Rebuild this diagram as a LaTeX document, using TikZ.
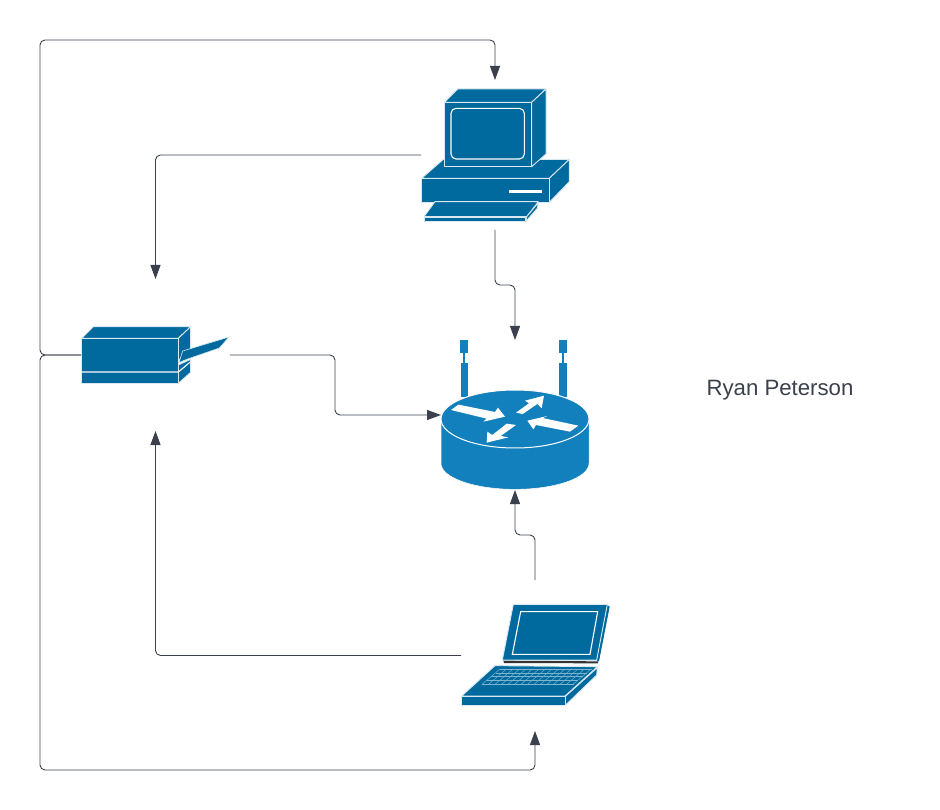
\documentclass[tikz,border=0pt]{standalone}
\usepackage{fontspec}
\setmainfont{Liberation Sans}
\usetikzlibrary{arrows.meta}
\definecolor{devblue}{HTML}{00699D}
\definecolor{routerblue}{HTML}{1280BC}
\definecolor{linegrey}{HTML}{3A414C}
\definecolor{keygrid}{HTML}{7FB4CE}
\tikzset{
  anchorbox/.style={inner sep=0pt,outer sep=0pt,minimum width=148pt,minimum height=150pt},
  wire/.style={draw=linegrey,line width=0.9pt,rounded corners=5pt},
  arrowwire/.style={wire,-{Triangle[length=14pt,width=10pt,color=linegrey]}},
  dev/.style={fill=devblue,draw=white!85!devblue,line width=0.9pt,line join=round},
  rdev/.style={fill=routerblue,draw=none},
  wl/.style={draw=white,line width=1.1pt},
  thinw/.style={draw=keygrid,line width=0.45pt},
  wfill/.style={fill=white,draw=none}
}
\begin{document}
\begin{tikzpicture}[x=1pt,y=-1pt]
\useasboundingbox (0,0) rectangle (940,810);
% --- computer ---
\begin{scope}[shift={(410,80)},scale=1/3]
  \path[dev] (35,295)--(100,238)--(478,238)--(418,295)--cycle;
  \path[dev] (103,67)--(143,27)--(408,27)--(365,67)--cycle;
  \path[dev] (365,67)--(408,27)--(408,222)--(365,260)--cycle;
  \path[dev] (103,67) rectangle (365,260);
  \path[dev] (418,295)--(478,238)--(478,305)--(418,367)--cycle;
  \path[dev] (35,295) rectangle (418,367);
  \path[wfill] (298,330) rectangle (395,340);
  \draw[wl,rounded corners=5pt] (123,85) rectangle (343,237);
  \path[dev] (75,365)--(385,365)--(350,410)--(42,410)--cycle;
  \path[dev] (350,410)--(385,368)--(382,385)--(347,425)--cycle;
  \path[dev] (42,411) rectangle (347,425);
\end{scope}
% --- printer ---
\begin{scope}[shift={(30,315)},scale=1/3]
  \path[dev] (155,70)--(190,35)--(482,35)--(445,70)--cycle;
  \path[dev] (445,70)--(482,35)--(482,100)--(445,137)--cycle;
  \path[dev] (445,150)--(482,133)--(482,172)--(445,205)--cycle;
  \path[dev] (155,70) rectangle (445,205);
  \draw[wl] (155,171)--(445,171)--(482,140);
  \path[fill=devblue,draw=white!85!devblue,line width=0.6pt] (458,108)--(597,66)--(568,99)--(470,133)--(447,143)--cycle;
\end{scope}
% --- router ---
\begin{scope}[shift={(430,330)},scale=1/3]
  \path[rdev] (92,100) rectangle (114,200);
  \path[rdev] (90,30) rectangle (114,68);
  \path[rdev] (100,68) rectangle (106,100);
  \path[rdev] (387,100) rectangle (410,200);
  \path[rdev] (386,30) rectangle (410,68);
  \path[rdev] (396,68) rectangle (402,100);
  \path[fill=routerblue,draw=white,line width=0.5pt]
    (33,267)--(33,400) arc[start angle=180,end angle=0,x radius=222,y radius=78]
    --(477,267)--cycle;
  \path[fill=routerblue,draw=white,line width=1pt] (255,267) ellipse[x radius=222,y radius=87];
  \path[wfill] (63,240)--(85,224)--(195,246)--(204,233)--(225,260)--(160,275)--(170,266)--cycle;
  \path[wfill] (258,248)--(297,220)--(285,212)--(342,197)--(335,235)--(322,222)--(278,252)--cycle;
  \path[wfill] (445,287)--(420,305)--(318,285)--(310,298)--(292,272)--(352,258)--(338,264)--cycle;
  \path[wfill] (258,285)--(212,318)--(235,322)--(170,338)--(172,305)--(187,315)--(230,281)--cycle;
\end{scope}
% --- laptop ---
\begin{scope}[shift={(450,595)},scale=1/3]
  \path[fill=devblue] (472,30)--(479,35)--(447,199)--(440,197)--cycle;
  \path[fill=black!80] (160,197)--(445,199)--(443,205)--(162,204)--cycle;
  \path[dev] (190,28)--(472,28)--(440,195)--(157,195)--cycle;
  \draw[wl] (212,50)--(443,50)--(420,178)--(187,178)--cycle;
  \path[dev] (35,303)--(135,212)--(442,215)--(345,303)--cycle;
  \path[dev] (345,305)--(442,218)--(440,240)--(347,330)--cycle;
  \path[dev] (35,304) rectangle (345,330);
  \foreach \t in {0,1,2,3,4} {
    \draw[thinw] ({150-13.5*\t},{222+11.5*\t})--({425-13.5*\t},{222+11.5*\t});
  }
  \foreach \t in {0,...,14} {
    \draw[thinw] ({150+19.5*\t},222)--({96+19.5*\t},268);
  }
\end{scope}
% --- label ---
\node[inner sep=0pt,text=linegrey,font=\fontsize{22.2}{26}\selectfont] (name) at (780,390.5) {Ryan Peterson};
% --- connection boxes ---
\node[anchorbox] (pc) at (495,155) {};
\node[anchorbox,minimum width=149pt,minimum height=152pt] (pr) at (155.5,355) {};
\node[anchorbox] (rt) at (515,415) {};
\node[anchorbox,minimum height=151pt] (lp) at (535,655.5) {};
% --- connectors ---
\draw[arrowwire] (pr.west) -| (40,40) -| (pc.north);
\draw[arrowwire] (pr.west) -| (40,770) -| (lp.south);
\draw[arrowwire] (pc.west) -| (pr.north);
\draw[arrowwire] (pc.south) |- (515,285) -- (rt.north);
\draw[arrowwire] (pr.east) -| (335,415) -- (rt.west);
\draw[arrowwire] (lp.north) |- (515,535) -- (rt.south);
\draw[arrowwire] (lp.west) -| (pr.south);
\end{tikzpicture}
\end{document}
